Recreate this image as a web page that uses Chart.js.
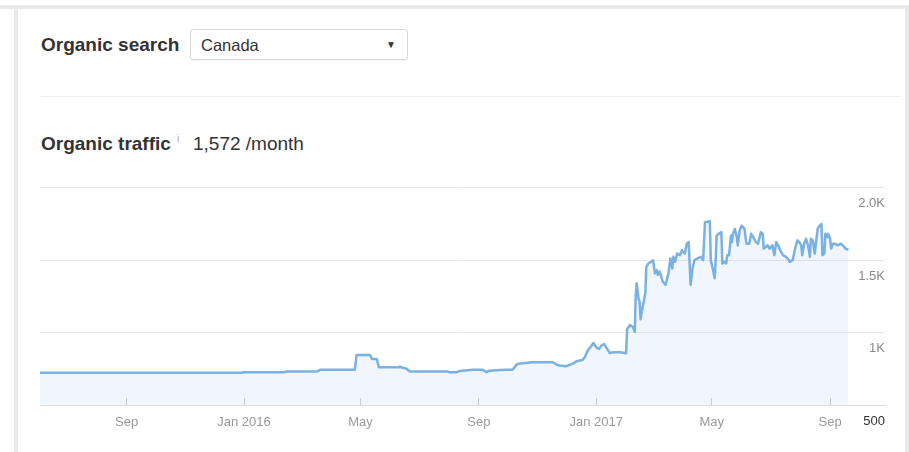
<!DOCTYPE html>
<html>
<head>
<meta charset="utf-8">
<script src="https://cdn.jsdelivr.net/npm/chart.js@4.4.1/dist/chart.umd.min.js"></script>
<style>
  body { margin: 0; width: 909px; height: 452px; background: #fff; position: relative; overflow: hidden;
         font-family: "Liberation Sans", Arial, sans-serif; color: #333; }
  .topband { position: absolute; left: 0; top: 5px; width: 909px; height: 4px; background: #e9e9e9; }
  .card { position: absolute; left: 14px; top: 5px; width: 895px; height: 460px; box-sizing: border-box;
          border: 4px solid #e9e9e9; border-bottom: none; background: #fff; }
  .label { position: absolute; font-weight: bold; font-size: 19px; white-space: nowrap; }
  .select { position: absolute; left: 190px; top: 29px; width: 218px; height: 31px; box-sizing: border-box;
            border: 1px solid #d9d9d9; border-radius: 3px; box-shadow: 0 1px 2px rgba(0,0,0,0.06); }
  .select span { position: absolute; left: 10px; top: 6px; font-size: 16.5px; }
  .select i { position: absolute; right: 11px; top: 9px; font-style: normal; font-size: 10px; }
  .sep { position: absolute; left: 41px; top: 96px; width: 859px; height: 1px; background: #ededed; }
  .info { position: absolute; left: 177px; top: 133px; font-size: 10px; color: #aaa; }
  .value { position: absolute; left: 193px; top: 133px; font-size: 19px; white-space: nowrap; }
  .wrap { position: absolute; left: 36px; top: 180px; width: 853px; height: 260px; }
</style>
</head>
<body>
<div class="topband"></div>
<div class="card"></div>
<div class="label" style="left:41px;top:34px;">Organic search</div>
<div class="select"><span>Canada</span><i>▼</i></div>
<div class="sep"></div>
<div class="label" style="left:41px;top:133px;">Organic traffic</div>
<div class="info">i</div>
<div class="value">1,572 /month</div>
<div class="wrap"><canvas id="traffic-chart"></canvas></div>

<script>
// x values are days counted from the first day shown
const startDate = "2015-06-03";
const dayOffsets = [
  0, 210, 212, 254, 256, 288, 291, 327, 329, 343, 345, 350, 352, 373, 374, 375, 381, 384,
  423, 425, 433, 436, 450, 460, 464, 467, 478, 485, 491, 496, 502, 512, 533, 537, 540, 547,
  553, 557, 561, 564, 566, 569, 573, 575, 578, 581, 583, 586, 589, 592, 596, 603, 609, 610,
  613, 616, 618, 619, 620, 622, 623, 624, 626, 629, 630, 632, 635, 637, 639, 641, 642, 644,
  647, 650, 653, 655, 657, 658, 660, 662, 665, 667, 670, 672, 674, 676, 678, 680, 684, 687,
  689, 691, 696, 697, 699, 701, 702, 703, 705, 708, 709, 711, 713, 714, 716, 718, 719, 720,
  722, 724, 725, 727, 729, 732, 734, 737, 739, 741, 744, 746, 749, 751, 752, 754, 756, 758,
  761, 763, 765, 767, 769, 772, 775, 777, 779, 782, 785, 787, 789, 791, 792, 794, 796, 798,
  800, 801, 803, 805, 808, 810, 812, 813, 815, 816, 818, 819, 821, 822, 824, 826, 829, 832,
  834, 837, 840
];
const trafficValues = [
  723, 723, 727, 727, 732, 732, 743, 743, 846, 846, 818, 818, 761, 761, 766, 761, 750, 732,
  732, 727, 727, 734, 743, 743, 727, 737, 742, 743, 743, 784, 788, 795, 795, 778, 773, 768,
  784, 800, 807, 812, 830, 875, 909, 928, 898, 887, 909, 921, 891, 859, 864, 864, 857, 1023,
  1052, 1039, 1007, 1264, 1341, 1230, 1216, 1093, 1170, 1273, 1455, 1477, 1489, 1500, 1409, 1432, 1398, 1421,
  1353, 1330, 1409, 1511, 1443, 1523, 1489, 1546, 1535, 1569, 1546, 1614, 1625, 1330, 1443, 1500, 1516, 1523,
  1500, 1762, 1769, 1500, 1443, 1375, 1489, 1671, 1682, 1694, 1477, 1489, 1477, 1535, 1535, 1671, 1625, 1682,
  1716, 1659, 1603, 1705, 1739, 1716, 1614, 1614, 1682, 1659, 1625, 1614, 1694, 1682, 1580, 1591, 1603, 1580,
  1603, 1535, 1625, 1603, 1569, 1535, 1523, 1511, 1489, 1500, 1591, 1637, 1625, 1603, 1535, 1614, 1648, 1603,
  1523, 1648, 1637, 1546, 1716, 1739, 1750, 1535, 1546, 1682, 1659, 1682, 1648, 1580, 1614, 1614, 1603, 1614,
  1603, 1580, 1572
];
const xTickDates = ["2015-09-01", "2016-01-01", "2016-05-01", "2016-09-01", "2017-01-01", "2017-05-01", "2017-09-01"];
const xTickLabels = ["Sep", "Jan 2016", "May", "Sep", "Jan 2017", "May", "Sep"];
const yTickValues = [500, 1000, 1500, 2000];
const yTickLabels = ["500", "1K", "1.5K", "2.0K"];

const dayOf = (s) => (Date.parse(s) - Date.parse(startDate)) / 864e5;
const xTickDays = xTickDates.map(dayOf);
const font = "'Liberation Sans', Arial, sans-serif";

new Chart(document.getElementById("traffic-chart"), {
  type: "line",
  data: {
    datasets: [
      {
        data: dayOffsets.map((d, i) => ({ x: d, y: trafficValues[i] })),
        borderColor: "#7ab1e3",
        backgroundColor: "rgba(122,177,227,0.11)",
        borderWidth: 2.5,
        borderJoinStyle: "round",
        tension: 0,
        pointRadius: 0,
        fill: "start",
      },
    ],
  },
  options: {
    responsive: true,
    maintainAspectRatio: false,
    animation: false,
    layout: { padding: { left: 4, right: 4, top: 5, bottom: 0 } },
    plugins: {
      legend: { display: false },
      tooltip: { enabled: false },
    },
    scales: {
      x: {
        type: "linear",
        min: 0,
        max: 878,
        afterBuildTicks: (s) => { s.ticks = xTickDays.map((v) => ({ value: v })); },
        afterFit: (s) => { s.height = 35; },
        grid: { drawOnChartArea: false, drawTicks: true, tickLength: -7, color: "#cfcfcf" },
        border: { color: "#dedede" },
        ticks: {
          autoSkip: false,
          maxRotation: 0,
          padding: 17,
          color: "#9a9a9a",
          font: { family: font, size: 13 },
          callback: (v) => xTickLabels[xTickDays.indexOf(v)],
        },
      },
      y: {
        position: "right",
        min: 500,
        max: 2000,
        afterBuildTicks: (s) => { s.ticks = yTickValues.map((v) => ({ value: v })); },
        afterFit: (s) => { s.width = 0; },
        grid: { color: "#e8e8e8", drawTicks: false },
        border: { display: false },
        ticks: {
          mirror: true,
          padding: 0,
          labelOffset: 16,
          color: (ctx) => (ctx.tick && ctx.tick.value === 500 ? "#333" : "#8a8a8a"),
          font: { family: font, size: 13 },
          callback: (v) => yTickLabels[yTickValues.indexOf(v)],
        },
      },
    },
  },
});
</script>
</body>
</html>
